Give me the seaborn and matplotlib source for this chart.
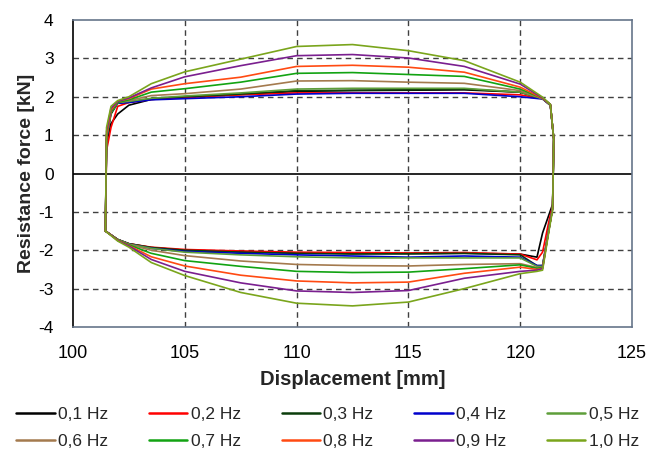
import numpy as np
import pandas as pd
import matplotlib
matplotlib.use("Agg")
import matplotlib.pyplot as plt
import seaborn as sns
from matplotlib.lines import Line2D

# ---------------- data ----------------
freqs = ["0,1 Hz", "0,2 Hz", "0,3 Hz", "0,4 Hz", "0,5 Hz",
         "0,6 Hz", "0,7 Hz", "0,8 Hz", "0,9 Hz", "1,0 Hz"]
colors = ["#000000", "#ff0000", "#0b3d0b", "#0000cc", "#5e9e3a",
          "#a47a4e", "#12a312", "#ff4a12", "#7a1f8f", "#7aa51c"]

# upper branch (loading) displacement positions [mm]
upper_x = [101.45, 101.5, 101.7, 102.0, 102.5, 103.5, 105.0, 107.5,
           110.0, 112.5, 115.0, 117.5, 120.0, 121.0, 121.35, 121.5]
# lower branch (unloading) displacement positions [mm]
lower_x = [121.5, 121.45, 121.3, 121.0, 120.75, 120.0, 117.5, 115.0,
           112.5, 110.0, 107.5, 105.0, 103.5, 102.5, 102.0, 101.6, 101.45]

upper_01 = [-1.5, 0.8, 1.30, 1.55, 1.78, 1.93, 1.99, 2.06, 2.14, 2.16, 2.17, 2.18, 2.12, 1.95, 1.78, 0.9]
upper_02 = [-1.5, 0.6, 1.20, 1.75, 1.85, 1.93, 1.98, 2.05, 2.10, 2.10, 2.10, 2.10, 2.05, 1.95, 1.78, 0.9]
upper_03 = [-1.5, 0.9, 1.55, 1.83, 1.86, 1.95, 2.00, 2.07, 2.16, 2.17, 2.18, 2.20, 2.12, 1.95, 1.78, 0.9]
upper_04 = [-1.5, 0.9, 1.60, 1.83, 1.85, 1.92, 1.95, 2.00, 2.07, 2.09, 2.09, 2.09, 2.00, 1.94, 1.78, 0.9]
upper_05 = [-1.5, 0.9, 1.60, 1.85, 1.88, 1.96, 2.02, 2.10, 2.20, 2.22, 2.22, 2.22, 2.12, 1.95, 1.78, 0.9]
upper_06 = [-1.5, 1.0, 1.60, 1.85, 1.90, 2.03, 2.08, 2.20, 2.41, 2.42, 2.38, 2.35, 2.16, 1.95, 1.80, 0.9]
upper_07 = [-1.5, 1.0, 1.60, 1.85, 1.92, 2.12, 2.21, 2.38, 2.61, 2.63, 2.58, 2.53, 2.20, 1.96, 1.80, 0.9]
upper_08 = [-1.5, 1.0, 1.65, 1.88, 1.95, 2.20, 2.34, 2.51, 2.79, 2.82, 2.77, 2.64, 2.25, 1.96, 1.80, 0.9]
upper_09 = [-1.5, 1.1, 1.70, 1.88, 1.97, 2.23, 2.52, 2.81, 3.07, 3.10, 3.01, 2.79, 2.33, 1.97, 1.80, 0.9]
upper_10 = [-1.5, 1.2, 1.75, 1.90, 2.00, 2.34, 2.65, 2.98, 3.31, 3.36, 3.20, 2.94, 2.38, 1.99, 1.80, 0.9]

lower_01 = [0.9, -0.80, -1.05, -1.55, -2.18, -2.10, -2.08, -2.09, -2.08, -2.07, -2.03, -2.00, -1.93, -1.83, -1.72, -1.56, -1.5]
lower_02 = [0.9, -0.85, -1.20, -2.05, -2.25, -2.10, -2.06, -2.07, -2.06, -2.05, -2.02, -1.98, -1.92, -1.83, -1.72, -1.56, -1.5]
lower_03 = [0.9, -0.90, -1.40, -2.40, -2.40, -2.12, -2.08, -2.09, -2.10, -2.08, -2.05, -2.00, -1.93, -1.83, -1.72, -1.56, -1.5]
lower_04 = [0.9, -0.90, -1.40, -2.40, -2.40, -2.18, -2.15, -2.18, -2.15, -2.12, -2.08, -2.03, -1.95, -1.84, -1.72, -1.56, -1.5]
lower_05 = [0.9, -0.90, -1.40, -2.42, -2.42, -2.20, -2.20, -2.20, -2.20, -2.17, -2.12, -2.05, -1.95, -1.84, -1.72, -1.56, -1.5]
lower_06 = [0.9, -0.90, -1.40, -2.45, -2.45, -2.35, -2.37, -2.41, -2.40, -2.37, -2.28, -2.14, -2.00, -1.85, -1.73, -1.56, -1.5]
lower_07 = [0.9, -0.90, -1.40, -2.45, -2.47, -2.38, -2.48, -2.57, -2.58, -2.55, -2.42, -2.27, -2.08, -1.86, -1.73, -1.56, -1.5]
lower_08 = [0.9, -0.90, -1.40, -2.47, -2.50, -2.44, -2.60, -2.83, -2.85, -2.80, -2.65, -2.41, -2.17, -1.88, -1.74, -1.56, -1.5]
lower_09 = [0.9, -0.90, -1.40, -2.48, -2.52, -2.55, -2.73, -3.05, -3.10, -3.06, -2.85, -2.55, -2.24, -1.89, -1.75, -1.56, -1.5]
lower_10 = [0.9, -0.95, -1.45, -2.52, -2.55, -2.61, -3.00, -3.35, -3.45, -3.38, -3.10, -2.66, -2.32, -1.92, -1.76, -1.57, -1.5]

uppers = [upper_01, upper_02, upper_03, upper_04, upper_05,
          upper_06, upper_07, upper_08, upper_09, upper_10]
lowers = [lower_01, lower_02, lower_03, lower_04, lower_05,
          lower_06, lower_07, lower_08, lower_09, lower_10]

x_ticks = [100, 105, 110, 115, 120, 125]
y_ticks = [-4, -3, -2, -1, 0, 1, 2, 3, 4]

# ---------------- build long table ----------------
rows = []
for f, up, lo in zip(freqs, uppers, lowers):
    xs = list(upper_x) + list(lower_x)
    ys = list(up) + list(lo)
    for i, (xv, yv) in enumerate(zip(xs, ys)):
        rows.append({"freq": f, "order": i, "x": xv, "y": yv})
df = pd.DataFrame(rows)

# ---------------- plot ----------------
sns.set_theme(style="white")
plt.rcParams["font.family"] = ["Liberation Sans", "DejaVu Sans"]
plt.rcParams["axes.unicode_minus"] = False

fig = plt.figure(figsize=(6.49, 4.51), dpi=100)
ax = fig.add_axes([73 / 649, 1 - 327 / 451, (632 - 73) / 649, (327 - 20) / 451])

grid_kw = dict(color="#404040", lw=1.0, ls=(0, (4, 3)), zorder=1)
for gx in x_ticks[1:-1]:
    ax.axvline(gx, **grid_kw)
for gy in y_ticks:
    if gy not in (0, -4, 4):
        ax.axhline(gy, **grid_kw)
ax.axhline(0, color="black", lw=1.2, zorder=1.5)

sns.lineplot(data=df, x="x", y="y", hue="freq", hue_order=freqs,
             palette=dict(zip(freqs, colors)), sort=False, estimator=None,
             lw=1.2, ax=ax, legend=False, zorder=3)

ax.set_xlim(100, 125)
ax.set_ylim(-4, 4)
ax.set_xticks(x_ticks)
ax.set_yticks(y_ticks)
ax.tick_params(axis="x", length=0, labelsize=13, colors="black", pad=13)
ax.tick_params(axis="y", length=0, labelsize=12.5, colors="black", pad=14)
for side in ("top", "right", "bottom"):
    ax.spines[side].set_color("#66758a")
    ax.spines[side].set_linewidth(1.2)
ax.spines["left"].set_color("black")
ax.spines["left"].set_linewidth(1.2)

ax.set_xlabel("Displacement [mm]", fontsize=14.5, fontweight="bold", labelpad=6)
ax.set_ylabel("Resistance force [kN]", fontsize=14, fontweight="bold", labelpad=2)

# legend filled row by row (matplotlib fills columns first)
ncol = 5
order = [r * ncol + c for c in range(ncol) for r in range(2)]
handles = [Line2D([], [], color=colors[i], lw=1.8) for i in order]
labels = [freqs[i] for i in order]
fig.legend(handles, labels, ncol=ncol, loc="lower center",
           bbox_to_anchor=(0.505, -0.03), frameon=False, fontsize=12.5,
           handlelength=2.2, handletextpad=0.2, columnspacing=2.35,
           labelspacing=0.7)

fig.savefig("out.png", dpi=100)
